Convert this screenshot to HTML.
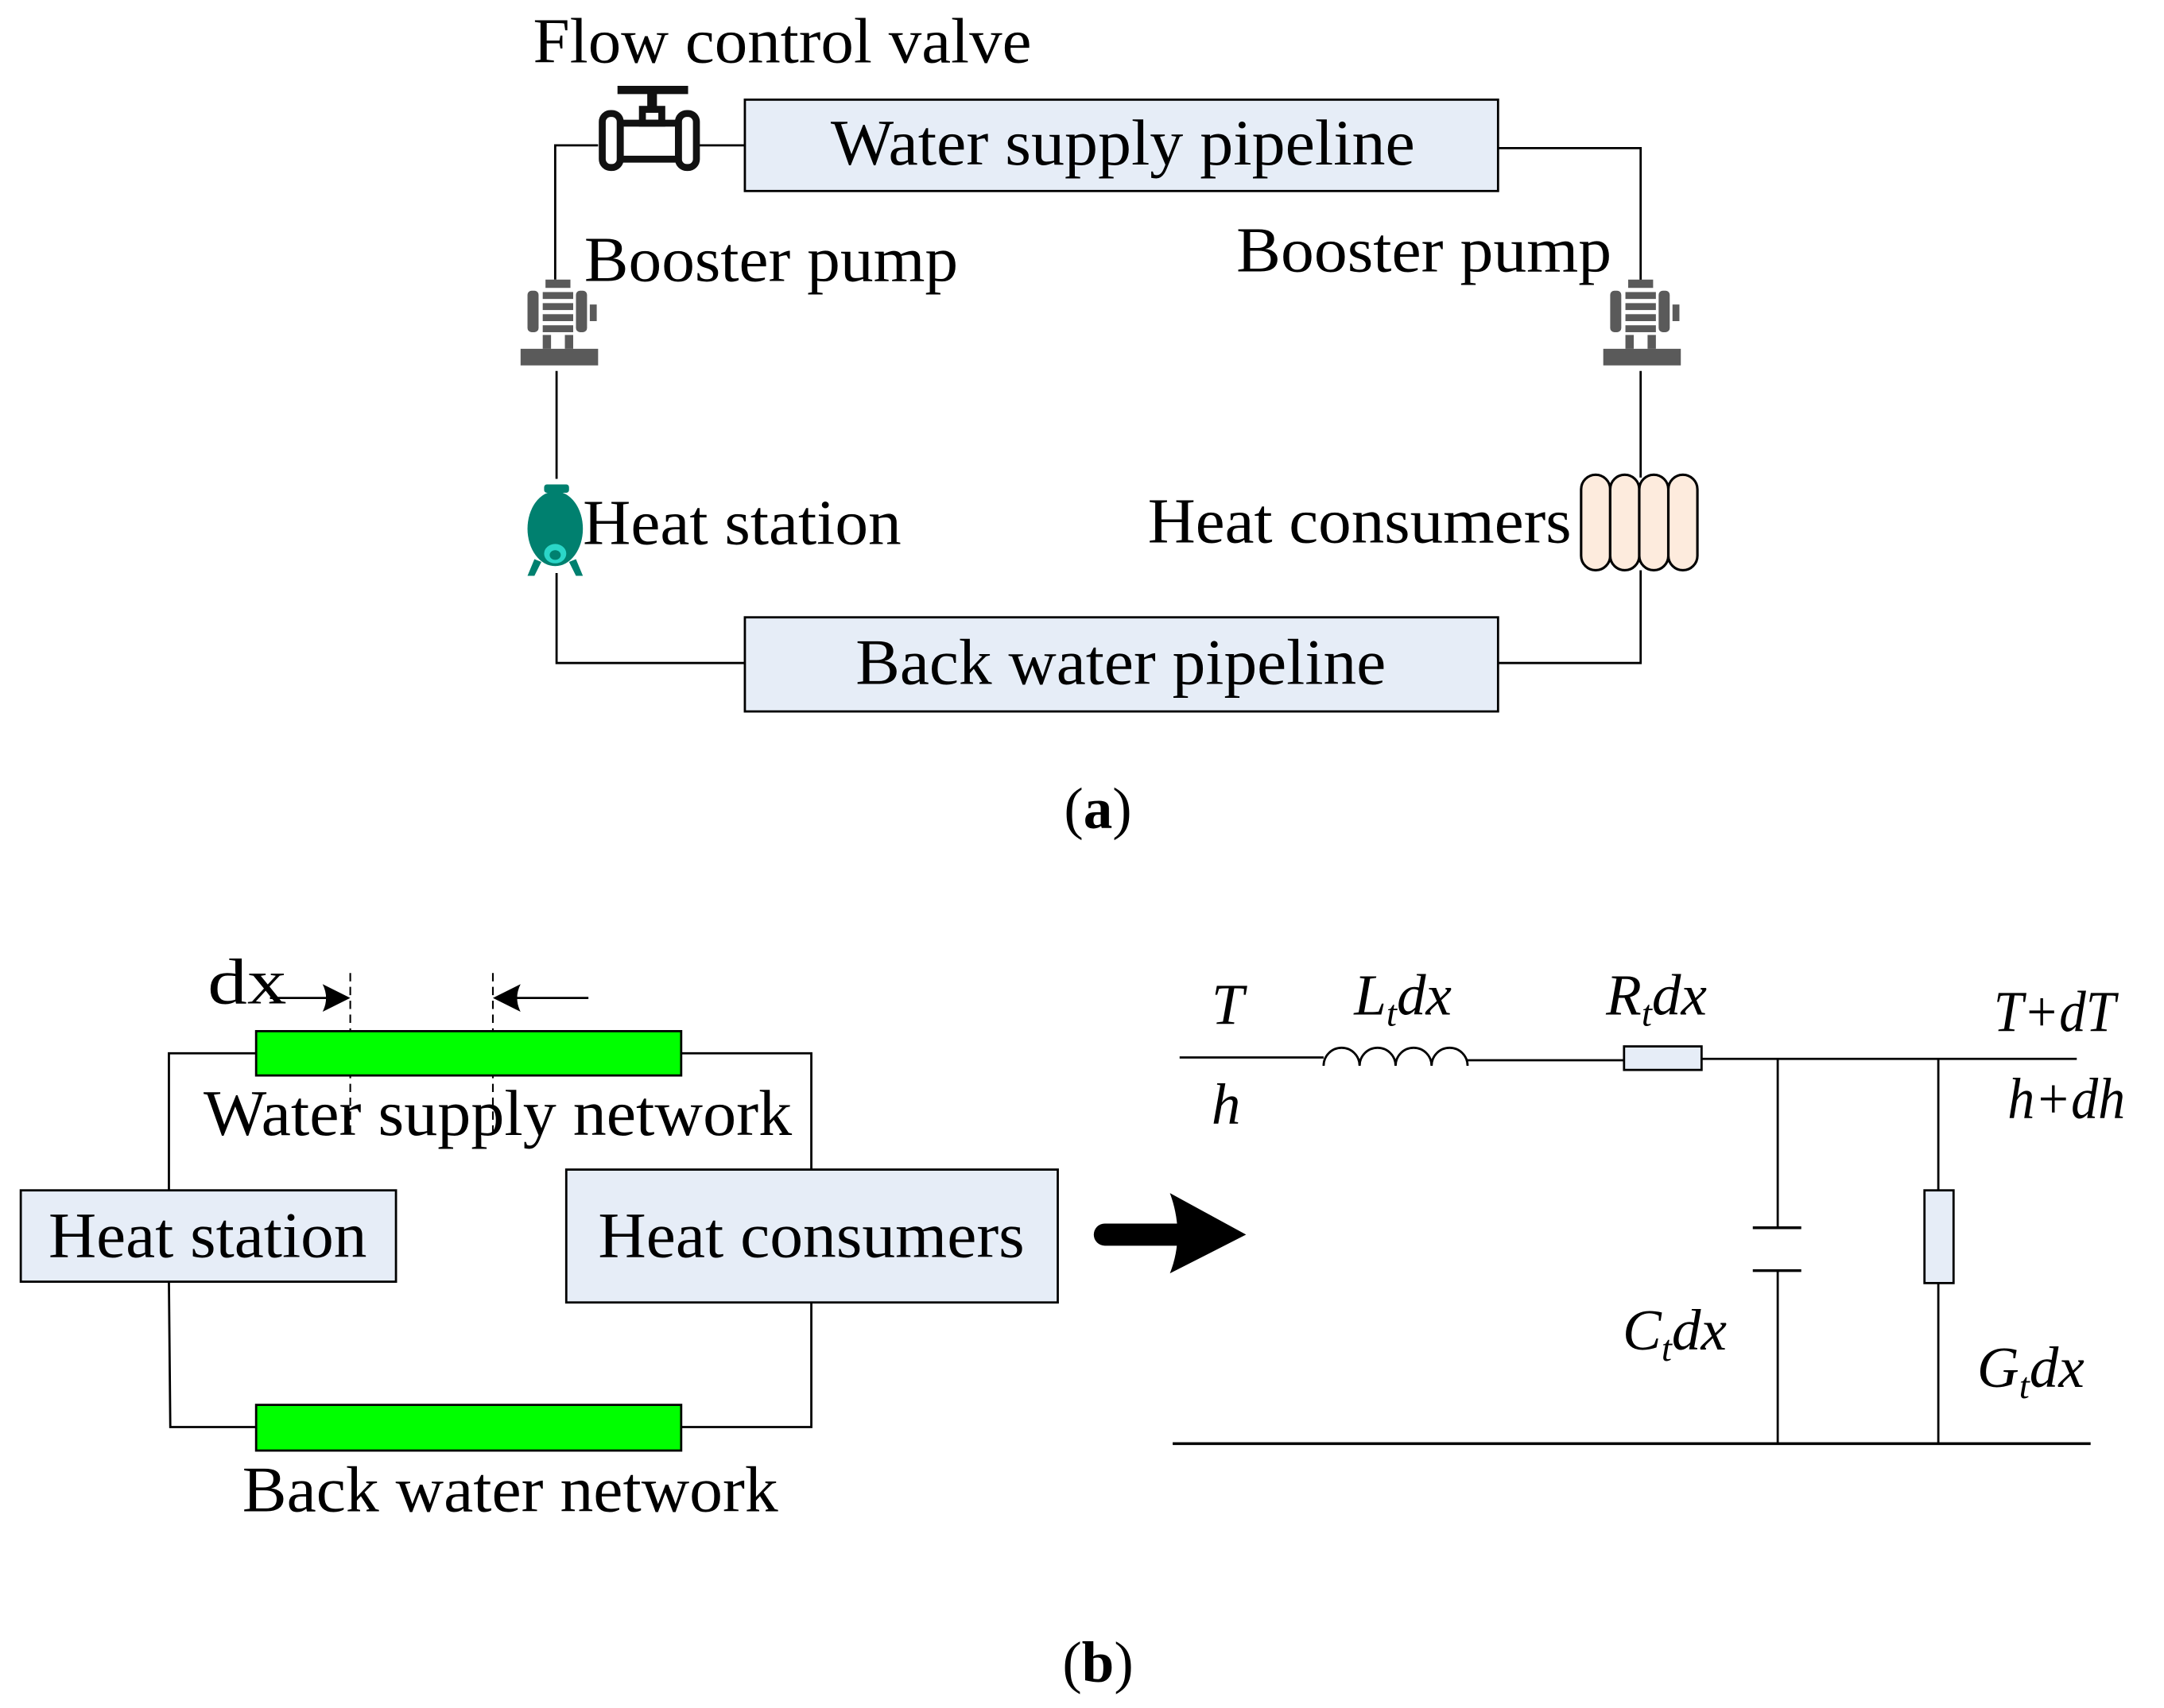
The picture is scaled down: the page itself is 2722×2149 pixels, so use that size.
<!DOCTYPE html>
<html><head><meta charset="utf-8"><style>
html,body{margin:0;padding:0;background:#fff;}
svg{display:block;}
text{font-family:"Liberation Serif",serif;fill:#000;}
</style></head><body>
<svg width="2722" height="2149" viewBox="0 0 1563 1234" preserveAspectRatio="none" xmlns="http://www.w3.org/2000/svg">
<g stroke="#000" stroke-width="1.6" fill="none">
<polyline points="432,105 401,105 401,202"/>
<line x1="505" y1="105" x2="538" y2="105"/>
<polyline points="1082,107 1185,107 1185,205"/>
<line x1="402" y1="268" x2="402" y2="346"/>
<polyline points="402,414 402,479 538,479"/>
<line x1="1185" y1="268" x2="1185" y2="345"/>
<polyline points="1185,412 1185,479 1082,479"/>
</g>
<rect x="538" y="72" width="544" height="66" fill="#e6edf7" stroke="#000" stroke-width="1.6"/>
<text x="600" y="119" font-size="47" textLength="422" lengthAdjust="spacingAndGlyphs">Water supply pipeline</text>
<rect x="538" y="446" width="544" height="68" fill="#e6edf7" stroke="#000" stroke-width="1.6"/>
<text x="618" y="494" font-size="47" textLength="383" lengthAdjust="spacingAndGlyphs">Back water pipeline</text>
<text x="385" y="45" font-size="46" textLength="360" lengthAdjust="spacingAndGlyphs">Flow control valve</text>
<text x="422" y="203" font-size="46" textLength="270" lengthAdjust="spacingAndGlyphs">Booster pump</text>
<text x="893" y="196" font-size="46" textLength="271" lengthAdjust="spacingAndGlyphs">Booster pump</text>
<text x="421" y="393" font-size="46" textLength="230" lengthAdjust="spacingAndGlyphs">Heat station</text>
<text x="829" y="392" font-size="46" textLength="306" lengthAdjust="spacingAndGlyphs">Heat consumers</text>
<text x="793" y="598" font-size="42" text-anchor="middle">(<tspan font-weight="bold">a</tspan>)</text>
<g fill="none" stroke="#111" stroke-width="5">
<line x1="446" y1="65" x2="497" y2="65" stroke-width="6"/>
<line x1="471" y1="65" x2="471" y2="80" stroke-width="7"/>
<rect x="464" y="79" width="14" height="10" stroke-width="5"/>
<rect x="435" y="82" width="13" height="39" rx="6"/>
<rect x="490" y="82" width="13" height="39" rx="6"/>
<rect x="448" y="89" width="42" height="26"/>
</g>
<g fill="#5a5a5a">
<g id="pump">
<rect x="394" y="202" width="18" height="6"/>
<rect x="381" y="210" width="8" height="30" rx="3"/>
<rect x="392" y="211" width="22" height="5"/>
<rect x="392" y="219" width="22" height="5"/>
<rect x="392" y="227" width="22" height="5"/>
<rect x="392" y="235" width="22" height="5"/>
<rect x="416" y="210" width="8" height="30" rx="3"/>
<rect x="426" y="220" width="5" height="12"/>
<rect x="392" y="242" width="6" height="10"/>
<rect x="408" y="242" width="6" height="10"/>
<rect x="376" y="252" width="56" height="12"/>
</g>
<use href="#pump" transform="translate(782,0)"/>
</g>
<g fill="#00806f">
<rect x="393" y="350" width="18" height="6" rx="2"/>
<ellipse cx="401" cy="382" rx="20" ry="27"/>
<path d="M386 404 L381 416 L386 416 L391 406Z M416 404 L421 416 L416 416 L411 406Z"/>
</g>
<ellipse cx="401" cy="400" rx="8" ry="7" fill="#2bd6c8"/>
<ellipse cx="401" cy="401" rx="4" ry="3.5" fill="#00806f"/>
<g fill="#fdebdd" stroke="#000" stroke-width="1.8">
<rect x="1142" y="343" width="21" height="69" rx="10.5"/>
<rect x="1163" y="343" width="21" height="69" rx="10.5"/>
<rect x="1184" y="343" width="21" height="69" rx="10.5"/>
<rect x="1205" y="343" width="21" height="69" rx="10.5"/>
</g>
<g stroke="#000" stroke-width="1.6" fill="none">
<polyline points="185,761 122,761 122,860"/>
<polyline points="492,761 586,761 586,845"/>
<polyline points="122,926 123,1031 185,1031"/>
<polyline points="492,1031 586,1031 586,941"/>
<line x1="195" y1="721" x2="240" y2="721"/>
<line x1="370" y1="721" x2="425" y2="721"/>
<line x1="253" y1="703" x2="253" y2="820" stroke-dasharray="6,4" stroke-width="1.2"/>
<line x1="356" y1="703" x2="356" y2="820" stroke-dasharray="6,4" stroke-width="1.2"/>
</g>
<path d="M253 721 L233 711 Q238 721 233 731Z" fill="#000"/>
<path d="M356 721 L376 711 Q371 721 376 731Z" fill="#000"/>
<rect x="185" y="745" width="307" height="32" fill="#00ff00" stroke="#000" stroke-width="1.6"/>
<rect x="185" y="1015" width="307" height="33" fill="#00ff00" stroke="#000" stroke-width="1.6"/>
<rect x="15" y="860" width="271" height="66" fill="#e6edf7" stroke="#000" stroke-width="1.6"/>
<rect x="409" y="845" width="355" height="96" fill="#e6edf7" stroke="#000" stroke-width="1.6"/>
<text x="150" y="725" font-size="47" textLength="57" lengthAdjust="spacingAndGlyphs">dx</text>
<text x="147" y="820" font-size="47" textLength="425" lengthAdjust="spacingAndGlyphs">Water supply network</text>
<text x="35" y="908" font-size="47" textLength="230" lengthAdjust="spacingAndGlyphs">Heat station</text>
<text x="432" y="908" font-size="47" textLength="308" lengthAdjust="spacingAndGlyphs">Heat consumers</text>
<text x="175" y="1092" font-size="47" textLength="387" lengthAdjust="spacingAndGlyphs">Back water network</text>
<text x="793" y="1215" font-size="42" text-anchor="middle">(<tspan font-weight="bold">b</tspan>)</text>
<line x1="798" y1="892" x2="852" y2="892" stroke="#000" stroke-width="16" stroke-linecap="round"/>
<path d="M845 862 L900 892 L845 920 Q856 892 845 862Z" fill="#000"/>
<g stroke="#000" stroke-width="1.6" fill="none">
<line x1="852" y1="764" x2="956" y2="764"/>
<path d="M956 770 A13 13 0 0 1 982 770 A13 13 0 0 1 1008 770 A13 13 0 0 1 1034 770 A13 13 0 0 1 1060 770"/>
<line x1="1060" y1="766" x2="1173" y2="766"/>
<line x1="1229" y1="765" x2="1500" y2="765"/>
<line x1="1284" y1="765" x2="1284" y2="887"/>
<line x1="1266" y1="887" x2="1301" y2="887" stroke-width="2"/>
<line x1="1266" y1="918" x2="1301" y2="918" stroke-width="2"/>
<line x1="1284" y1="918" x2="1284" y2="1043"/>
<line x1="1400" y1="765" x2="1400" y2="860"/>
<line x1="1400" y1="927" x2="1400" y2="1043"/>
<line x1="847" y1="1043" x2="1510" y2="1043" stroke-width="2"/>
</g>
<rect x="1173" y="756" width="56" height="17" fill="#e6edf7" stroke="#000" stroke-width="1.6"/>
<rect x="1390" y="860" width="21" height="67" fill="#e6edf7" stroke="#000" stroke-width="1.6"/>
<g font-style="italic" font-size="42">
<text x="875" y="740">T</text>
<text x="875" y="812">h</text>
<text x="978" y="733">L<tspan font-size="27" dy="8">t</tspan><tspan dy="-8">dx</tspan></text>
<text x="1160" y="733">R<tspan font-size="27" dy="8">t</tspan><tspan dy="-8">dx</tspan></text>
<text x="1440" y="745" textLength="88" lengthAdjust="spacingAndGlyphs">T+dT</text>
<text x="1450" y="808" textLength="85" lengthAdjust="spacingAndGlyphs">h+dh</text>
<text x="1172" y="975">C<tspan font-size="27" dy="8">t</tspan><tspan dy="-8">dx</tspan></text>
<text x="1428" y="1002">G<tspan font-size="27" dy="8">t</tspan><tspan dy="-8">dx</tspan></text>
</g>
</svg>
</body></html>
